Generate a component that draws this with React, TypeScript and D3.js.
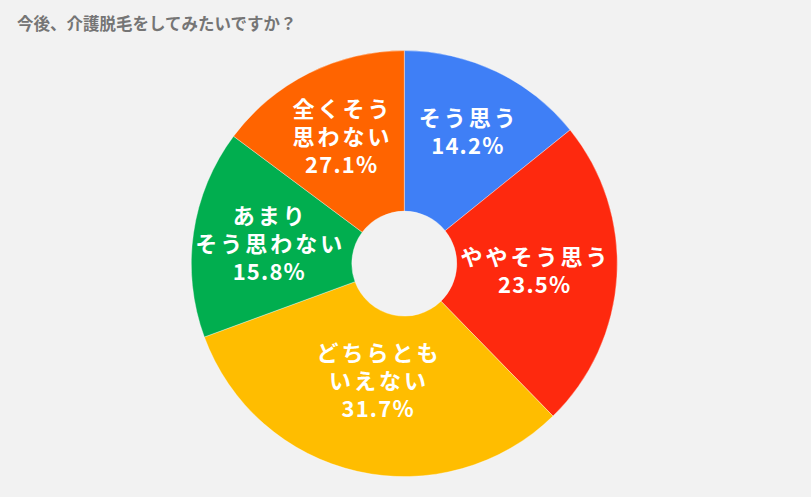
import React from "react";
import * as d3 from "d3";

const categories = ["そう思う", "ややそう思う", "どちらともいえない", "あまりそう思わない", "全くそう思わない"];
const values = [14.2, 23.5, 31.7, 15.8, 14.8];
const percentLabels = ["14.2%", "23.5%", "31.7%", "15.8%", "27.1%"];
const labelLines = [
  ["そう思う"],
  ["ややそう思う"],
  ["どちらとも", "いえない"],
  ["あまり", "そう思わない"],
  ["全くそう", "思わない"],
];
const colors = ["#3f7ff6", "#fe290e", "#ffbd00", "#01ae4f", "#ff6400"];
const title = "今後、介護脱毛をしてみたいですか？";

const W = 811;
const H = 497;
const cx = 404.3;
const cy = 263.6;
const outerR = 213;
const innerR = 52.5;
const labelR = [146, 130, 121, 137, 141];
const lineH = 28;

export default function App() {
  const pie = d3.pie<number>().sort(null).value((d) => d);
  const arcs = pie(values);
  const arc = d3.arc<d3.PieArcDatum<number>>().innerRadius(innerR).outerRadius(outerR);
  const font = "'Noto Sans CJK JP', 'Noto Sans', sans-serif";
  return (
    <svg width={W} height={H} style={{ position: "absolute", left: 0, top: 0, background: "#f2f2f2" }}>
      <rect x={0} y={0} width={W} height={H} fill="#f2f2f2" />
      <text x={17} y={30} fontFamily={font} fontWeight="bold" fontSize={16.5} fill="#757575">
        {title}
      </text>
      <g transform={`translate(${cx},${cy})`}>
        {arcs.map((a, i) => (
          <path key={categories[i]} d={arc(a) || ""} fill={colors[i]} stroke="#ffffff" strokeOpacity={0.35} strokeWidth={1} />
        ))}
        {arcs.map((a, i) => {
          const mid = (a.startAngle + a.endAngle) / 2;
          const x = Math.sin(mid) * labelR[i];
          const y = -Math.cos(mid) * labelR[i];
          const lines = [...labelLines[i], percentLabels[i]];
          const y0 = y - ((lines.length - 1) * lineH) / 2;
          return (
            <g key={"l" + i}>
              {lines.map((t, j) => {
                const isPct = j === lines.length - 1;
                const ls = isPct ? 1.2 : 3;
                return (
                  <text
                    key={j}
                    x={x + ls / 2}
                    y={y0 + j * lineH}
                    dy="0.35em"
                    textAnchor="middle"
                    fontFamily={font}
                    fontWeight="bold"
                    fontSize={22}
                    letterSpacing={ls}
                    fill="#ffffff"
                  >
                    {t}
                  </text>
                );
              })}
            </g>
          );
        })}
      </g>
    </svg>
  );
}
